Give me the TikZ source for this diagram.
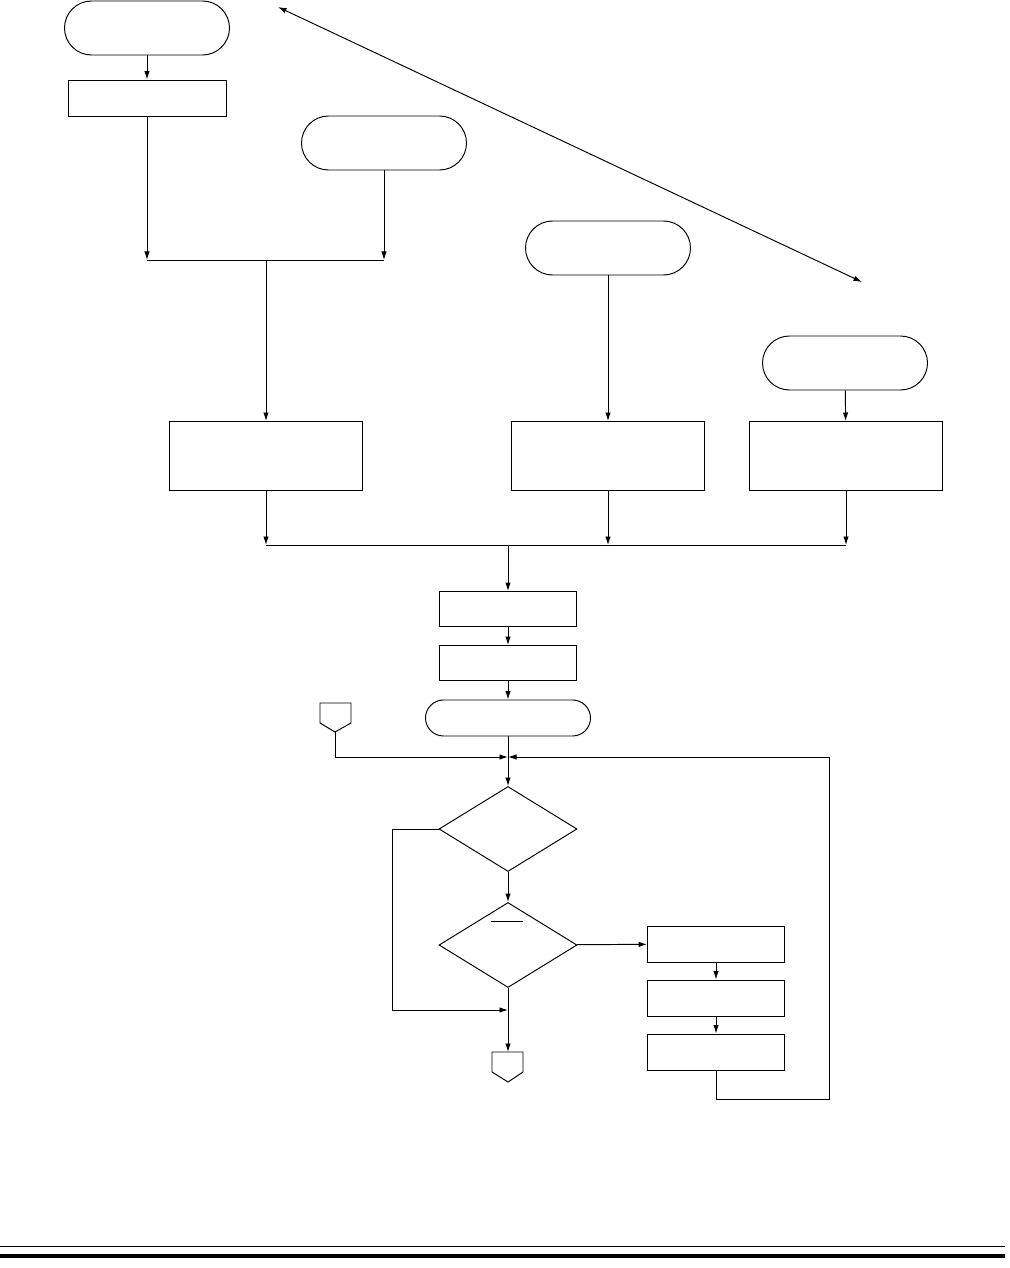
\documentclass[tikz,border=0pt]{standalone}
\usetikzlibrary{shapes.geometric,shapes.misc,arrows.meta}

\begin{document}
\begin{tikzpicture}[x=0.2mm,y=-0.2mm,line width=0.55pt,
  term/.style={draw,rounded rectangle,minimum width=33mm,minimum height=10.8mm,inner sep=0pt},
  procbox/.style={draw,rectangle,inner sep=0pt},
  decision/.style={draw,diamond,minimum width=27.6mm,minimum height=17mm,inner sep=0pt},
  flow/.style={-{Latex[length=1.7mm,width=1.1mm]}}]
\useasboundingbox (0,0) rectangle (1009,1268);

% upper part
\node[term] (t1) at (147,28) {};
\node[procbox,minimum width=31.6mm,minimum height=7.2mm] (b1) at (147,98) {};
\node[term] (t2) at (384,143) {};
\node[term] (t3) at (608,248) {};
\node[term] (t4) at (845,363) {};

\coordinate (da) at (278,7);
\coordinate (db) at (862,282);
\draw[{Latex[length=1.7mm,width=1.1mm]}-{Latex[length=1.7mm,width=1.1mm]}] (da) -- (db);

\node[procbox,minimum width=38.6mm,minimum height=13.8mm] (b2) at (266,456) {};
\node[procbox,minimum width=38.6mm,minimum height=13.8mm] (b3) at (608,456) {};
\node[procbox,minimum width=38.6mm,minimum height=13.8mm] (b4) at (846,456) {};

\coordinate (ja) at (266,260);
\draw[flow] (t1) -- (b1);
\draw[flow] (b1) -- (b1 |- ja);
\draw[flow] (t2) -- (t2 |- ja);
\draw (b1 |- ja) -- (t2 |- ja);
\draw[flow] (ja) -- (b2);
\draw[flow] (t3) -- (b3);
\draw[flow] (t4) -- (b4);

% middle part
\node[procbox,minimum width=27.4mm,minimum height=7mm] (b5) at (508,609) {};
\node[procbox,minimum width=27.4mm,minimum height=7mm] (b6) at (508,663) {};
\node[term,minimum height=7.2mm] (t5) at (508,718) {};

\coordinate (jb) at (508,545);
\foreach \n in {b2,b3,b4}
  \draw[flow] (\n) -- (\n |- jb);
\draw (b2 |- jb) -- (b4 |- jb);
\draw[flow] (jb) -- (b5);
\draw[flow] (b5) -- (b6);
\draw[flow] (b6) -- (t5);

% loop
\node[decision] (d1) at (508,829) {};
\node[decision] (d2) at (508,945) {};
\draw (491,921) -- (523,921);

\node[procbox,minimum width=27.4mm,minimum height=7.2mm] (b7) at (716,944) {};
\node[procbox,minimum width=27.4mm,minimum height=7.2mm] (b8) at (716,998) {};
\node[procbox,minimum width=27.4mm,minimum height=7.2mm] (b9) at (716,1052) {};

% off-page connectors
\draw (320,703) -- (351,703) -- (351,723) -- (335,732) -- (320,723) -- cycle;
\coordinate (offa) at (335,732);
\draw (492,1052) -- (523,1052) -- (523,1072) -- (508,1082) -- (492,1072) -- cycle;
\coordinate (offb) at (508,1052);

\coordinate (jc) at (508,757);
\coordinate (jd) at (508,1010);
\coordinate (lr) at (829,1099);
\draw[flow] (t5) -- (d1);
\draw[flow] (offa) |- (jc);
\draw[flow] (b9.south) |- (lr) |- (jc);
\draw[flow] (d1) -- (d2);
\draw[flow] (d1.west) -- ++(-46,0) |- (jd);
\draw[flow] (d2) -- (offb);
\draw[flow] (d2) -- (b7);
\draw[flow] (b7) -- (b8);
\draw[flow] (b8) -- (b9);

% rules at the bottom
\draw[line width=0.2mm] (0,1246) -- (1005,1246);
\draw[line width=0.8mm] (0,1256) -- (1005,1256);
\end{tikzpicture}
\end{document}
